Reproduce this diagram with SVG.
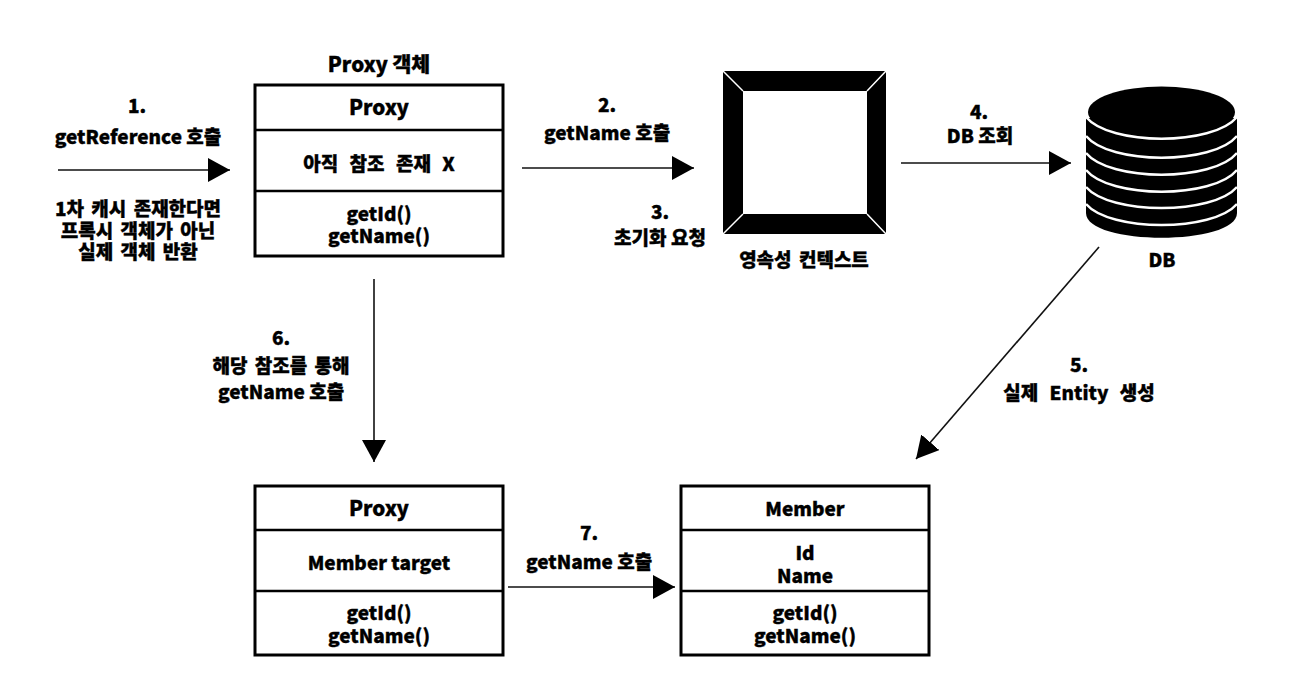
<svg xmlns="http://www.w3.org/2000/svg" width="1289" height="696" viewBox="0 0 1289 696">
<style>
text{font-family:"Noto Sans CJK KR","Noto Sans",sans-serif;font-size:19px;font-weight:900;fill:#000;stroke:#000;stroke-width:.35;text-anchor:middle}
.big{font-size:20.5px}
.ws{word-spacing:3px}
.wl{word-spacing:7px}
.box{fill:#fff;stroke:#000;stroke-width:3}
.div{stroke:#000;stroke-width:2.5;fill:none}
.conn{stroke:#111;stroke-width:1.6;fill:none;marker-end:url(#arr)}
.band{stroke:#fff;stroke-width:2.5;fill:none}
</style>
<defs><marker id="arr" markerUnits="userSpaceOnUse" markerWidth="24" markerHeight="26" refX="22" refY="12" orient="auto"><path d="M0 0L22 12L0 24Z" fill="#000"/></marker></defs>
<rect width="1289" height="696" fill="#fff"/>
<g id="connectors">
<path class="conn" d="M58 170H230"/>
<path class="conn" d="M522 168H694"/>
<path class="conn" d="M901 163H1071"/>
<path class="conn" d="M374 279V462"/>
<path class="conn" d="M1099 247L916 459"/>
<path class="conn" d="M508 587H675"/>
</g>
<g id="proxy-top"><rect class="box" x="255" y="85" width="248" height="171"/><path class="div" d="M255 130H503M255 191H503"/>
<text class="big" x="379" y="72">Proxy 객체</text><text class="big" x="379" y="115">Proxy</text><text class="wl" x="379" y="171">아직 참조 존재 X</text><text x="379" y="221">getId()</text><text x="379" y="243">getName()</text></g>
<g id="persistence-context"><path fill="#000" d="M723 71H886V234H723Z"/><path d="M723 71L743 91M886 71L867 91M723 234L743 214M886 234L867 214" stroke="#fff" stroke-width="1.5"/><rect x="743" y="91" width="124" height="123" fill="#fff"/><text class="ws" x="804" y="267">영속성 컨텍스트</text></g>
<g id="db"><path fill="#000" d="M1086 118H1237V213C1237 246 1086 246 1086 213Z"/><ellipse cx="1161.5" cy="112" rx="73.5" ry="25.5" fill="#000"/><path class="band" d="M1086 117C1110 146 1213 146 1237 117M1086 136C1110 165 1213 165 1237 136M1086 153C1110 182 1213 182 1237 153M1086 170C1110 199 1213 199 1237 170M1086 187C1110 215 1213 215 1237 187M1086 204C1110 232 1213 232 1237 204"/><text x="1162" y="267">DB</text></g>
<g id="proxy-bottom"><rect class="box" x="255" y="486" width="248" height="169"/><path class="div" d="M255 530H503M255 591H503"/><text class="big" x="379" y="516">Proxy</text><text x="379" y="570">Member target</text><text x="379" y="620">getId()</text><text x="379" y="643">getName()</text></g>
<g id="member"><rect class="box" x="681" y="486" width="248" height="169"/><path class="div" d="M681 530H929M681 591H929"/><text x="805" y="516">Member</text><text x="805" y="560">Id</text><text x="805" y="583">Name</text><text x="805" y="620">getId()</text><text x="805" y="643">getName()</text></g>
<g id="labels">
<text x="137" y="113">1.</text><text x="138" y="144">getReference 호출</text>
<text class="ws" x="138" y="216">1차 캐시 존재한다면</text><text class="ws" x="138" y="238">프록시 객체가 아닌</text><text class="ws" x="138" y="259">실제 객체 반환</text>
<text x="607" y="112">2.</text><text x="607" y="140">getName 호출</text>
<text x="660" y="219">3.</text><text x="660" y="245">초기화 요청</text>
<text x="979" y="119">4.</text><text x="980" y="143">DB 조회</text>
<text x="1079" y="372">5.</text><text class="wl" x="1079" y="400">실제 Entity 생성</text>
<text x="281" y="345">6.</text><text class="ws" x="281" y="373">해당 참조를 통해</text><text x="281" y="399">getName 호출</text>
<text x="589" y="540">7.</text><text x="589" y="569">getName 호출</text>
</g>
</svg>
